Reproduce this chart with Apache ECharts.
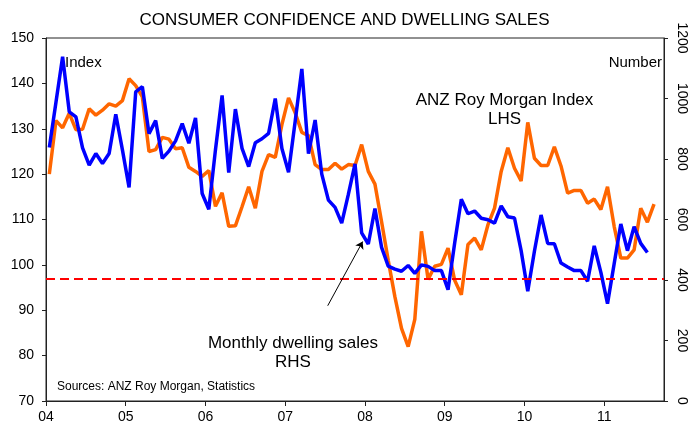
<!DOCTYPE html>
<html>
<head>
<meta charset="utf-8">
<script src="https://cdn.jsdelivr.net/npm/echarts@6/dist/echarts.min.js"></script>
<style>
  html, body { margin: 0; padding: 0; background: #fff; }
  #chart { width: 689px; height: 428px; }
</style>
</head>
<body>
<div id="chart"></div>
<script>
// monthly data, first point is Jan 2004
const startYear = 2004;
const yearLabels = ['04', '05', '06', '07', '08', '09', '10', '11'];

// ANZ Roy Morgan consumer confidence index (LHS)
const confidence = [
  120, 131.8, 130.2, 133.4, 129.8, 129.9, 134.4, 133.0, 134.1, 135.5, 135.0, 136.2,
  141.0, 139.5, 137.0, 125.0, 125.4, 128.1, 127.7, 125.6, 125.8, 121.5, 120.6, 119.5,
  120.8, 112.9, 115.9, 108.5, 108.6, 112.8, 117.2, 112.5, 120.6, 124.3, 123.7, 130.9,
  136.8, 133.5, 129.2, 128.5, 122.1, 121.0, 121.0, 122.4, 121.1, 122.1, 121.9, 126.5,
  120.6, 117.8, 109.5, 101.0, 93.0, 86.0, 82.0, 88.0, 107.4, 96.8, 99.7, 100.1,
  103.7, 96.6, 93.4, 104.5, 105.9, 103.3, 108.8, 112.5, 120.6, 125.8, 121.3, 118.5,
  131.4, 123.5, 121.9, 121.9, 126.0, 121.8, 115.8, 116.4, 116.4, 113.6, 114.5, 112.2,
  117.2, 108.5, 101.5, 101.5, 103.3, 112.5, 109.4, 113.4
];

// monthly dwelling sales, number (RHS)
const dwellingSales = [
  838, 988, 1138, 956, 939, 837, 780, 818, 785, 818, 948, 830,
  706, 1022, 1039, 884, 927, 802, 826, 860, 917, 852, 936, 686,
  634, 830, 1010, 755, 965, 835, 775, 854, 867, 885, 1000, 835,
  756, 925, 1098, 818, 929, 750, 664, 640, 588, 683, 784, 556,
  519, 636, 508, 446, 436, 429, 448, 422, 450, 445, 431, 431,
  368, 522, 667, 619, 628, 604, 599, 588, 645, 609, 605, 497,
  363, 495, 615, 521, 520, 456, 443, 431, 431, 396, 513, 425,
  322, 454, 585, 497, 576, 521, 491
];

// dashed reference level on the index axis
const referenceLevel = 97;

const FONT = '"Liberation Sans", Arial, sans-serif';

function toPoints(values) {
  // mid-month position on a year axis
  return values.map((v, i) => [startYear + (i + 0.5) / 12, v]);
}

const chart = echarts.init(document.getElementById('chart'));

const axisLineStyle = { color: '#222', width: 1 };

chart.setOption({
  animation: false,
  backgroundColor: '#fff',
  textStyle: { fontFamily: FONT },
  title: {
    text: 'CONSUMER CONFIDENCE AND DWELLING SALES',
    left: 'center',
    top: 7,
    textStyle: { fontSize: 17, fontWeight: 'normal', color: '#000', fontFamily: FONT }
  },
  grid: {
    left: 46, right: 25, top: 38, bottom: 27,
    show: true, borderColor: '#222', borderWidth: 1
  },
  xAxis: {
    type: 'value',
    min: 2004,
    max: 2011.75,
    interval: 1,
    axisLine: { show: true, lineStyle: axisLineStyle },
    axisTick: { show: true, length: 5, lineStyle: axisLineStyle },
    axisLabel: {
      color: '#000', fontSize: 14, margin: 9, fontFamily: FONT,
      showMaxLabel: false,
      formatter: v => Number.isInteger(v) ? yearLabels[v - startYear] : ''
    },
    splitLine: { show: false }
  },
  yAxis: [
    {
      type: 'value',
      position: 'left',
      min: 70, max: 150, interval: 10,
      axisLine: { show: true, lineStyle: axisLineStyle },
      axisTick: { show: true, length: 4, lineStyle: axisLineStyle },
      axisLabel: { color: '#000', fontSize: 14, margin: 12, fontFamily: FONT },
      splitLine: { show: false }
    },
    {
      type: 'value',
      position: 'right',
      min: 0, max: 1200, interval: 200,
      axisLine: { show: true, lineStyle: axisLineStyle },
      axisTick: { show: true, length: 4, lineStyle: axisLineStyle },
      axisLabel: {
        color: '#000', fontSize: 14, margin: 11, rotate: -90, fontFamily: FONT,
        formatter: v => String(v)
      },
      splitLine: { show: false }
    }
  ],
  series: [
    {
      name: 'ANZ Roy Morgan Index',
      type: 'line',
      yAxisIndex: 0,
      data: toPoints(confidence),
      showSymbol: false,
      symbol: 'none',
      lineStyle: { color: '#ff6600', width: 3.5 },
      markLine: {
        silent: true,
        symbol: 'none',
        label: { show: false },
        lineStyle: { color: '#ff0000', width: 2, type: [9, 5] },
        data: [{ yAxis: referenceLevel }]
      }
    },
    {
      name: 'Monthly dwelling sales',
      type: 'line',
      yAxisIndex: 1,
      data: toPoints(dwellingSales),
      showSymbol: false,
      symbol: 'none',
      lineStyle: { color: '#0000ff', width: 3.5 },
      // arrow pointing at the dwelling sales line
      markLine: {
        silent: true,
        symbol: ['none', 'arrow'],
        symbolSize: 7,
        label: { show: false },
        lineStyle: { color: '#000', width: 1, type: 'solid' },
        data: [[{ coord: [2007.533, 315] }, { coord: [2007.971, 527] }]]
      }
    }
  ],
  graphic: [
    { type: 'text', x: 65, y: 62.5, style: { text: 'Index', font: '15px ' + FONT, fill: '#000', align: 'left', verticalAlign: 'middle' } },
    { type: 'text', x: 662, y: 63, style: { text: 'Number', font: '15px ' + FONT, fill: '#000', align: 'right', verticalAlign: 'middle' } },
    { type: 'text', x: 504.5, y: 100, style: { text: 'ANZ Roy Morgan Index', font: '17px ' + FONT, fill: '#000', align: 'center', verticalAlign: 'middle' } },
    { type: 'text', x: 504.5, y: 119, style: { text: 'LHS', font: '17px ' + FONT, fill: '#000', align: 'center', verticalAlign: 'middle' } },
    { type: 'text', x: 293, y: 343, style: { text: 'Monthly dwelling sales', font: '17px ' + FONT, fill: '#000', align: 'center', verticalAlign: 'middle' } },
    { type: 'text', x: 293, y: 362, style: { text: 'RHS', font: '17px ' + FONT, fill: '#000', align: 'center', verticalAlign: 'middle' } },
    { type: 'text', x: 57, y: 386.5, style: { text: 'Sources: ANZ Roy Morgan, Statistics', font: '12px ' + FONT, fill: '#000', align: 'left', verticalAlign: 'middle' } }
  ]
});
</script>
</body>
</html>
